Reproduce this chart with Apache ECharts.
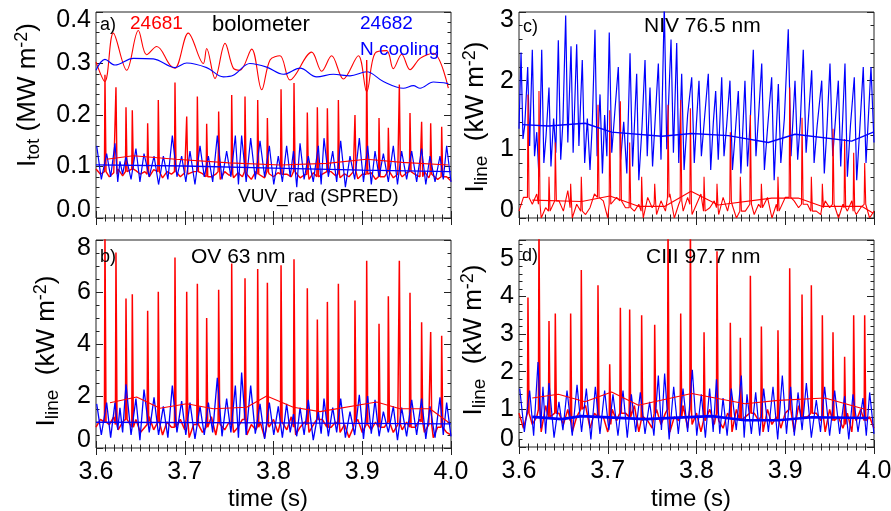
<!DOCTYPE html>
<html><head><meta charset="utf-8">
<script src="https://cdn.jsdelivr.net/npm/echarts@6/dist/echarts.min.js"></script>
<style>html,body{margin:0;padding:0;background:#fff}#c{width:891px;height:511px}</style>
</head><body><div id="c"></div>
<script>
const FONT = "'Liberation Sans', Arial, Helvetica, sans-serif";
const RED = '#ff0000', BLUE = '#0000ff';

// ---- shared time bases (s) ----
const elmT = [3.6101,3.6225,3.6338,3.6409,3.6582,3.6702,3.6890,3.7022,3.7142,3.7247,3.7382,3.7529,3.7679,3.7822,3.7931,3.8085,3.8231,3.8381,3.8494,3.8607,3.8731,3.8918,3.9050,3.9189,3.9294,3.9418,3.9538,3.9669,3.9771,3.9895];
const blueT = [3.6008,3.6120,3.6214,3.6270,3.6338,3.6450,3.6541,3.6654,3.6759,3.6860,3.6965,3.7059,3.7172,3.7266,3.7367,3.7472,3.7570,3.7641,3.7743,3.7848,3.7953,3.8054,3.8148,3.8225,3.8299,3.8392,3.8505,3.8569,3.8667,3.8757,3.8862,3.8967,3.9061,3.9144,3.9238,3.9350,3.9444,3.9557,3.9669,3.9763,3.9876,3.9951];
const blueTroughT = [3.6060,3.6165,3.6245,3.6300,3.6395,3.6495,3.6600,3.6705,3.6810,3.6912,3.7012,3.7115,3.7220,3.7315,3.7420,3.7520,3.7605,3.7692,3.7795,3.7900,3.8003,3.8100,3.8188,3.8262,3.8345,3.8448,3.8537,3.8618,3.8712,3.8810,3.8915,3.9014,3.9102,3.9190,3.9294,3.9397,3.9500,3.9613,3.9716,3.9820,3.9913,4.0000];
const BASE_T0 = 3.600, BASE_DT = 0.005;

// ---- panel a: bolometer ----
const aBoloRed = [[3.600,0.303],[3.610,0.265],[3.6195,0.359],[3.6346,0.287],[3.6477,0.364],[3.6571,0.317],[3.6684,0.333],[3.6834,0.297],[3.689,0.291],[3.704,0.359],[3.7209,0.300],[3.7247,0.329],[3.7341,0.271],[3.7454,0.339],[3.7547,0.291],[3.7623,0.287],[3.7754,0.328],[3.7867,0.249],[3.7961,0.307],[3.8073,0.315],[3.8186,0.268],[3.843,0.322],[3.8543,0.285],[3.8655,0.315],[3.8787,0.270],[3.8956,0.315],[3.905,0.245],[3.9144,0.320],[3.9275,0.325],[3.935,0.290],[3.9444,0.318],[3.9538,0.288],[3.9651,0.310],[3.9801,0.320],[3.997,0.252]];
const aBoloBlue = [[3.600,0.287],[3.6101,0.308],[3.6214,0.297],[3.6421,0.310],[3.6646,0.309],[3.689,0.292],[3.7022,0.301],[3.7247,0.292],[3.7435,0.274],[3.7547,0.277],[3.7735,0.300],[3.7923,0.293],[3.8111,0.279],[3.8299,0.291],[3.8486,0.274],[3.8674,0.279],[3.8862,0.276],[3.905,0.284],[3.9238,0.265],[3.9463,0.252],[3.9576,0.257],[3.9651,0.252],[3.9801,0.264],[3.997,0.261]];
// ---- panel a: VUV_rad ----
const aRedPeak = [0.278,0.254,0.215,0.209,0.184,0.229,0.263,0.197,0.236,0.183,0.207,0.239,0.236,0.229,0.194,0.250,0.262,0.205,0.215,0.213,0.229,0.200,0.307,0.194,0.175,0.259,0.204,0.187,0.184,0.177];
const aRedFoot = [0.09,0.085,0.09,0.095,0.085,0.09,0.09,0.085,0.09,0.08,0.09,0.085,0.09,0.085,0.09,0.085,0.09,0.085,0.08,0.09,0.085,0.09,0.085,0.08,0.09,0.085,0.09,0.08,0.085,0.08];
const aRedBase = [0.095,0.085,0.09,0.08,0.088,0.095,0.082,0.09,0.078,0.092,0.085,0.09,0.08,0.094,0.086,0.078,0.09,0.085,0.092,0.08,0.088,0.082,0.09,0.078,0.086,0.092,0.08,0.085,0.075,0.09,0.083,0.078,0.088,0.08,0.085,0.075,0.09,0.082,0.078,0.086,0.08,0.088,0.076,0.085,0.08,0.09,0.078,0.084,0.075,0.088,0.08,0.085,0.076,0.09,0.082,0.078,0.086,0.08,0.09,0.076,0.085,0.08,0.088,0.075,0.084,0.08,0.09,0.078,0.085,0.08,0.088,0.076,0.084,0.08,0.09,0.078,0.085,0.075,0.088,0.08,0.072];
const aBluePeak = [0.14,0.125,0.145,0.11,0.12,0.135,0.125,0.12,0.12,0.16,0.12,0.13,0.14,0.12,0.16,0.13,0.16,0.16,0.155,0.15,0.14,0.12,0.14,0.13,0.145,0.12,0.14,0.155,0.13,0.15,0.12,0.155,0.14,0.13,0.125,0.14,0.13,0.13,0.135,0.12,0.12,0.14];
const aBlueTrough = [0.075,0.08,0.07,0.085,0.075,0.07,0.08,0.065,0.075,0.08,0.07,0.065,0.08,0.07,0.075,0.08,0.065,0.07,0.075,0.08,0.065,0.07,0.08,0.06,0.075,0.07,0.065,0.08,0.07,0.06,0.075,0.07,0.065,0.08,0.07,0.065,0.075,0.07,0.065,0.07,0.075,0.07];
const aRedAvg = [[3.612,0.114],[3.642,0.121],[3.690,0.114],[3.750,0.107],[3.808,0.103],[3.860,0.106],[3.905,0.114],[3.945,0.108],[3.997,0.103]];
const aBlueAvg = [[3.600,0.103],[3.700,0.101],[3.800,0.097],[3.900,0.093],[4.000,0.090]];

// ---- panel b: OV 63 nm ----
const bRedPeak = [8.3,7.52,5.75,5.91,5.28,6.01,7.33,6.01,6.32,5.0,6.09,7.10,6.53,6.88,6.36,7.03,7.26,6.14,4.94,5.62,6.32,5.67,7.20,4.78,5.84,7.20,5.97,4.84,4.46,4.32];
const bRedFoot = [1.0,0.9,1.1,0.8,0.9,1.0,0.8,1.1,0.9,0.8,1.0,0.9,1.1,0.8,0.9,1.0,0.8,0.9,1.1,0.8,0.9,1.0,0.9,0.8,1.0,0.9,0.8,1.0,0.9,0.8];
const bRedBase = [0.8,1.1,0.6,0.9,1.2,0.7,1.0,0.5,0.9,1.1,0.6,0.8,1.2,0.7,0.9,0.5,1.0,0.8,0.6,1.1,0.7,0.4,0.9,1.0,0.6,0.8,1.2,0.5,0.9,0.7,1.0,0.6,0.8,1.1,0.5,0.9,0.7,1.0,0.4,0.8,1.1,0.6,0.9,0.7,1.2,0.5,0.8,1.0,0.6,0.9,0.7,1.1,0.5,0.8,1.0,0.6,0.9,0.4,0.8,1.1,0.6,0.9,0.7,1.0,0.5,0.8,1.2,0.6,0.9,0.7,1.0,0.5,0.8,1.1,0.6,0.9,0.4,0.8,1.0,0.6,0.5];
const bBluePeak = [1.7,1.75,1.75,1.55,2.45,1.9,2.25,1.95,1.6,2.4,1.8,1.75,1.6,1.75,2.7,1.9,2.4,2.9,2.4,1.7,1.75,1.6,1.7,1.3,1.55,1.85,1.4,1.9,1.55,1.9,1.4,2.05,2.0,1.85,1.4,1.6,1.55,1.85,1.9,1.6,1.95,1.75];
const bBlueTrough = [0.5,0.4,0.7,0.6,0.5,0.3,0.6,0.5,0.4,0.6,0.5,0.35,0.5,0.6,0.45,0.6,0.4,0.5,0.55,0.35,0.5,0.4,0.6,0.45,0.5,0.3,0.55,0.45,0.6,0.4,0.5,0.35,0.55,0.45,0.6,0.3,0.45,0.5,0.35,0.4,0.5,0.45];
const bRedAvg = [[3.6158,1.74],[3.6458,1.96],[3.6721,1.53],[3.7022,1.70],[3.7322,1.51],[3.7698,1.57],[3.7923,2.0],[3.8223,1.57],[3.8524,1.40],[3.9162,1.77],[3.9425,1.51],[3.9763,1.51],[3.997,0.99]];
const bBlueAvg = [[3.600,0.99],[3.800,0.97],[4.000,0.93]];

// ---- panel c: NIV 76.5 nm ----
const cRedPeak = [1.8,1.85,0.6,1.1,0.5,0.6,1.65,1.57,1.7,1.1,0.6,0.5,1.65,1.72,1.6,0.6,0.5,1.25,0.6,1.5,0.5,0.6,1.9,1.46,0.6,0.5,1.3,1.15,0.95,0.8];
const cRedFoot = [0.3,0.2,0.1,0.25,0.15,0.1,0.3,0.2,0.25,0.15,0.1,0.2,0.3,0.25,0.2,0.1,0.15,0.25,0.1,0.2,0.15,0.1,0.3,0.2,0.1,0.15,0.2,0.15,0.1,0.2];
const cRedBase = [0.1,0.3,0.05,0.2,0.35,0.0,0.15,0.3,0.05,0.25,0.1,0.4,0.0,0.2,0.3,0.05,0.15,0.35,0.1,0.25,0.0,0.2,0.3,0.05,0.15,0.4,0.1,0.2,0.0,0.3,0.15,0.05,0.25,0.1,0.35,0.0,0.2,0.1,0.3,0.05,0.2,0.35,0.0,0.15,0.25,0.05,0.3,0.1,0.2,0.0,0.25,0.1,0.35,0.05,0.2,0.15,0.3,0.0,0.2,0.1,0.3,0.05,0.25,0.15,0.0,0.2,0.35,0.1,0.05,0.25,0.15,0.3,0.0,0.2,0.1,0.25,0.05,0.15,0.2,0.0,0.1];
const cBlue = [[3.6000,1.30],[3.6023,2.41],[3.6045,1.15],[3.6065,1.35],[3.6098,2.20],[3.6120,1.05],[3.6150,2.45],[3.6175,0.90],[3.6200,1.25],[3.6225,0.60],[3.6256,2.45],[3.6280,0.80],[3.6305,1.20],[3.6338,1.90],[3.6360,0.75],[3.6390,1.45],[3.6415,0.95],[3.6443,2.59],[3.6470,0.85],[3.6495,1.40],[3.6526,2.95],[3.6550,1.10],[3.6586,2.50],[3.6610,0.95],[3.6650,2.53],[3.6675,1.05],[3.6713,2.30],[3.6740,0.80],[3.6770,1.45],[3.6800,0.70],[3.6825,1.35],[3.6856,2.74],[3.6880,0.90],[3.6913,1.80],[3.6940,0.65],[3.6965,1.50],[3.6990,0.90],[3.7017,2.70],[3.7045,0.95],[3.7080,1.55],[3.7119,2.20],[3.7145,0.85],[3.7180,1.40],[3.7215,0.65],[3.7251,2.40],[3.7280,0.75],[3.7326,2.10],[3.7350,0.55],[3.7385,1.30],[3.7420,2.30],[3.7445,0.90],[3.7476,1.90],[3.7505,0.75],[3.7535,1.45],[3.7570,2.25],[3.7600,0.85],[3.7637,3.10],[3.7665,1.00],[3.7713,2.60],[3.7740,0.95],[3.7777,2.55],[3.7800,0.80],[3.7833,2.10],[3.7860,0.70],[3.7900,1.50],[3.7946,2.05],[3.7975,0.80],[3.8000,1.40],[3.8028,2.00],[3.8055,0.90],[3.8090,1.45],[3.8133,2.10],[3.8160,0.70],[3.8190,1.40],[3.8216,1.85],[3.8245,0.85],[3.8284,2.05],[3.8310,0.90],[3.8340,1.35],[3.8377,2.00],[3.8405,0.70],[3.8440,1.30],[3.8471,1.85],[3.8500,0.65],[3.8546,2.00],[3.8575,0.75],[3.8605,1.40],[3.8640,2.45],[3.8670,0.90],[3.8700,1.50],[3.8735,2.25],[3.8765,0.70],[3.8800,1.30],[3.8847,2.05],[3.8875,0.55],[3.8922,1.95],[3.8950,0.80],[3.8990,1.45],[3.9034,2.75],[3.9065,0.90],[3.9110,2.00],[3.9140,0.85],[3.9170,1.40],[3.9203,2.45],[3.9235,0.95],[3.9298,2.15],[3.9325,0.80],[3.9360,1.35],[3.9411,2.00],[3.9440,0.65],[3.9470,1.30],[3.9504,2.25],[3.9535,0.90],[3.9598,2.00],[3.9625,0.75],[3.9673,2.25],[3.9700,0.60],[3.9735,1.35],[3.9778,2.05],[3.9805,0.55],[3.9840,1.30],[3.9879,2.20],[3.9910,0.80],[3.9966,2.20],[4.0000,1.10]];
const cRedAvg = [[3.615,0.26],[3.6706,0.24],[3.7025,0.32],[3.7345,0.17],[3.7645,0.17],[3.7938,0.39],[3.8246,0.19],[3.8847,0.29],[3.9147,0.29],[3.941,0.17],[3.9861,0.17],[3.9992,0.07]];
const cBlueAvg = [[3.6038,1.36],[3.633,1.34],[3.6744,1.38],[3.7044,1.25],[3.7608,1.19],[3.7946,1.23],[3.8359,1.20],[3.8809,1.10],[3.911,1.22],[3.9748,1.12],[3.9992,1.25]];

// ---- panel d: CIII 97.7 nm ----
const dRedPeak = [3.97,6.0,3.35,3.55,3.55,4.7,4.3,2.2,3.7,3.65,3.5,3.25,6.0,3.55,6.0,3.05,5.2,3.3,2.9,4.55,3.2,3.1,4.75,4.05,4.3,3.5,3.05,2.4,3.5,3.5];
const dRedFoot = [0.9,1.0,0.8,0.9,0.7,1.0,0.8,0.6,0.9,0.8,0.7,0.9,1.0,0.8,1.0,0.7,0.9,0.8,0.7,0.9,0.8,0.7,1.0,0.8,0.9,0.8,0.7,0.6,0.8,0.7];
const dRedBase = [0.9,0.5,1.0,0.6,0.8,0.4,1.1,0.7,0.5,0.9,0.6,1.0,0.4,0.8,0.7,1.1,0.5,0.9,0.6,0.8,0.4,1.0,0.7,0.5,0.9,0.6,1.1,0.4,0.8,0.7,0.5,1.0,0.6,0.9,0.4,0.8,0.7,1.1,0.5,0.6,0.9,0.4,0.8,1.0,0.6,0.7,0.5,0.9,0.4,1.0,0.6,0.8,0.5,0.9,0.7,0.4,1.0,0.6,0.8,0.5,0.9,0.7,0.4,1.1,0.6,0.8,0.5,0.9,0.7,0.4,1.0,0.6,0.8,0.5,0.9,0.4,0.7,1.0,0.6,0.8,0.5];
const dBluePeak = [1.55,1.5,2.26,1.6,1.7,1.2,1.5,1.65,1.55,1.6,1.5,1.4,1.5,1.4,1.45,1.2,1.9,1.95,1.6,1.55,2.05,1.4,1.55,1.8,1.3,1.55,1.9,1.4,1.45,1.55,1.6,1.9,1.6,1.45,1.7,1.25,1.6,1.5,1.35,1.4,1.3,1.45];
const dBlueTrough = [0.4,0.3,0.5,0.35,0.25,0.45,0.3,0.4,0.2,0.35,0.45,0.3,0.25,0.4,0.35,0.3,0.45,0.2,0.35,0.4,0.3,0.25,0.4,0.35,0.3,0.45,0.25,0.35,0.3,0.4,0.2,0.35,0.3,0.45,0.25,0.4,0.3,0.35,0.2,0.4,0.3,0.35];
const dRedAvg = [[3.615,1.30],[3.6443,1.40],[3.6744,1.2],[3.7044,1.46],[3.7345,1.11],[3.7946,1.42],[3.8547,1.15],[3.8922,1.24],[3.9448,1.30],[3.9917,0.99]];
const dBlueAvg = [[3.615,0.80],[3.6481,0.74],[3.6706,0.82],[3.742,0.74],[3.8171,0.82],[3.8547,0.71],[3.8922,0.71],[3.9298,0.79],[3.9936,0.77]];

// ---- axis ticks ----
const xTickLabels = ['3.6','3.7','3.8','3.9','4.0'];
const yA = {min:0, max:0.4, step:0.1, minor:5, dec:1};
const yB = {min:0, max:8, step:2, minor:4, dec:0};
const yC = {min:0, max:3, step:1, minor:5, dec:0};
const yD = {min:0, max:5.5, step:1, minor:5, dec:0};

// ---- builders (spike rise/fall half-widths are drawing style) ----
const RISE = 0.0006, FALL = 0.0012;
function spiky(base, peakT, peakV, footV) {
  const pts = [];
  base.forEach((v, i) => {
    const t = BASE_T0 + i * BASE_DT;
    if (!peakT.some(p => t > p - RISE - 0.0004 && t < p + FALL + 0.0004)) pts.push([t, v]);
  });
  peakT.forEach((t, i) => {
    pts.push([t - RISE, footV[i]]);
    pts.push([t, peakV[i]]);
    pts.push([t + FALL, footV[i]]);
  });
  return pts.sort((p, q) => p[0] - q[0]);
}
function zig(peakT, peakV, troughT, troughV) {
  const pts = [];
  peakT.forEach((t, i) => pts.push([t, peakV[i]]));
  troughT.forEach((t, i) => pts.push([t, troughV[i]]));
  return pts.sort((p, q) => p[0] - q[0]);
}

const grids = [
  {left:96, top:12, width:355, height:206},
  {left:96, top:240, width:355, height:208},
  {left:519, top:12, width:355, height:206},
  {left:519, top:240, width:355, height:207}
].map(g => Object.assign(g, {show:true, borderColor:'#222', borderWidth:1, backgroundColor:'transparent', containLabel:false, outerBoundsMode:'none'}));

const LBL = {fontSize:25, fontFamily:FONT, color:'#000'};
const xAxis = [], yAxis = [];
const ycfg = [yA, yB, yC, yD];
for (let g = 0; g < 4; g++) {
  const showX = (g === 1 || g === 3);
  ['bottom','top'].forEach(pos => xAxis.push({
    gridIndex:g, type:'value', position:pos, min:3.6, max:4.0, interval:0.1,
    axisLine:{show:false},
    axisTick:{show:true, inside:true, length:7, lineStyle:{color:'#222', width:1}},
    minorTick:{show:true, splitNumber:10, length:3.5, lineStyle:{color:'#222', width:1}},
    splitLine:{show:false}, minorSplitLine:{show:false},
    axisLabel:Object.assign({show: showX && pos === 'bottom', margin:12,
      formatter: v => { const i = Math.round((v - 3.6) * 10); return xTickLabels[i] || ''; }}, LBL)
  }));
  const c = ycfg[g];
  ['left','right'].forEach(pos => yAxis.push({
    gridIndex:g, type:'value', position:pos, min:c.min, max:c.max, interval:c.step,
    axisLine:{show:false},
    axisTick:{show:true, inside:true, length:7, lineStyle:{color:'#222', width:1}},
    minorTick:{show:true, splitNumber:c.minor, length:3.5, lineStyle:{color:'#222', width:1}},
    splitLine:{show:false}, minorSplitLine:{show:false},
    axisLabel:Object.assign({show: pos === 'left', margin:5,
      rich:{lo:Object.assign({padding:[0,0,16,0]}, LBL), hi:Object.assign({padding:[16,0,0,0]}, LBL)},
      formatter: v => {
        const k = Math.round(v / c.step);
        if (Math.abs(k * c.step - v) > 1e-6) return '';
        const s = v.toFixed(c.dec);
        if (Math.abs(v - c.min) < 1e-6) return '{lo|' + s + '}';
        if (Math.abs(v - c.max) < 1e-6) return '{hi|' + s + '}';
        return s;
      }}, LBL)
  }));
}

function line(g, data, color, width, smooth) {
  return {type:'line', xAxisIndex:2*g, yAxisIndex:2*g, data, showSymbol:false, symbol:'none',
    smooth: smooth || false, clip:true, silent:true, animation:false,
    lineStyle:{color, width: width || 1}, z:2};
}

const series = [
  line(0, aBoloRed, RED, 1.1, 0.35),
  line(0, aBoloBlue, BLUE, 1.1, 0.35),
  line(0, spiky(aRedBase, elmT, aRedPeak, aRedFoot), RED, 1.4),
  line(0, zig(blueT, aBluePeak, blueTroughT, aBlueTrough), BLUE, 1.2),
  line(0, aRedAvg, RED, 1.1),
  line(0, aBlueAvg, BLUE, 1.3),
  line(1, spiky(bRedBase, elmT, bRedPeak, bRedFoot), RED, 1.5),
  line(1, zig(blueT, bBluePeak, blueTroughT, bBlueTrough), BLUE, 1.3),
  line(1, bRedAvg, RED, 1.1),
  line(1, bBlueAvg, BLUE, 1.3),
  line(2, cBlue, BLUE, 1.2),
  line(2, spiky(cRedBase, elmT, cRedPeak, cRedFoot), RED, 1.1),
  line(2, cBlueAvg, BLUE, 1.4),
  line(2, cRedAvg, RED, 1.1),
  line(3, spiky(dRedBase, elmT, dRedPeak, dRedFoot), RED, 1.5),
  line(3, zig(blueT, dBluePeak, blueTroughT, dBlueTrough), BLUE, 1.2),
  line(3, dRedAvg, RED, 1.1),
  line(3, dBlueAvg, BLUE, 2.6)
];

function txt(x, y, text, size, color, align) {
  return {type:'text', x, y, silent:true, z:10,
    style:{text, fill:color || '#000', fontSize:size, fontFamily:FONT, align: align || 'left', verticalAlign:'middle'}};
}
const richT = {
  m:{fontSize:26, fontFamily:FONT, lineHeight:30, fill:'#000'},
  s:{fontSize:19, fontFamily:FONT, lineHeight:18, verticalAlign:'bottom', fill:'#000'},
  p:{fontSize:18, fontFamily:FONT, lineHeight:17, verticalAlign:'top', fill:'#000'}
};
function ytitle(x, y, text) {
  return {type:'text', x, y, rotation:Math.PI/2, silent:true, z:10,
    style:{text, rich:richT, fill:'#000', align:'center', verticalAlign:'middle', fontFamily:FONT}};
}

const graphic = [
  txt(100, 25, 'a)', 18), txt(130, 24, '24681', 19, RED), txt(212, 25, 'bolometer', 22),
  txt(360, 24, '24682', 19, BLUE), txt(360, 50, 'N cooling', 19, BLUE),
  txt(238, 197, 'VUV_rad (SPRED)', 19),
  txt(100, 257, 'b)', 18), txt(191, 257, 'OV 63 nm', 21),
  txt(523, 27, 'c)', 18), txt(644, 26, 'NIV 76.5 nm', 21),
  txt(522, 256, 'd)', 18), txt(646, 257, 'CIII 97.7 nm', 21),
  txt(268, 499, 'time (s)', 24, '#000', 'center'), txt(691, 499, 'time (s)', 24, '#000', 'center'),
  ytitle(28, 95, '{m|I}{s|tot}{m| (MW m}{p|-2}{m|)}'),
  ytitle(47, 351, '{m|I}{s|line}{m|  (kW m}{p|-2}{m|)}'),
  ytitle(476, 117, '{m|I}{s|line}{m|  (kW m}{p|-2}{m|)}'),
  ytitle(474, 340, '{m|I}{s|line}{m|  (kW m}{p|-2}{m|)}')
];

const chart = echarts.init(document.getElementById('c'), null, {renderer:'canvas'});
chart.setOption({animation:false, backgroundColor:'#fff', grid:grids, xAxis, yAxis, series, graphic});
</script></body></html>
